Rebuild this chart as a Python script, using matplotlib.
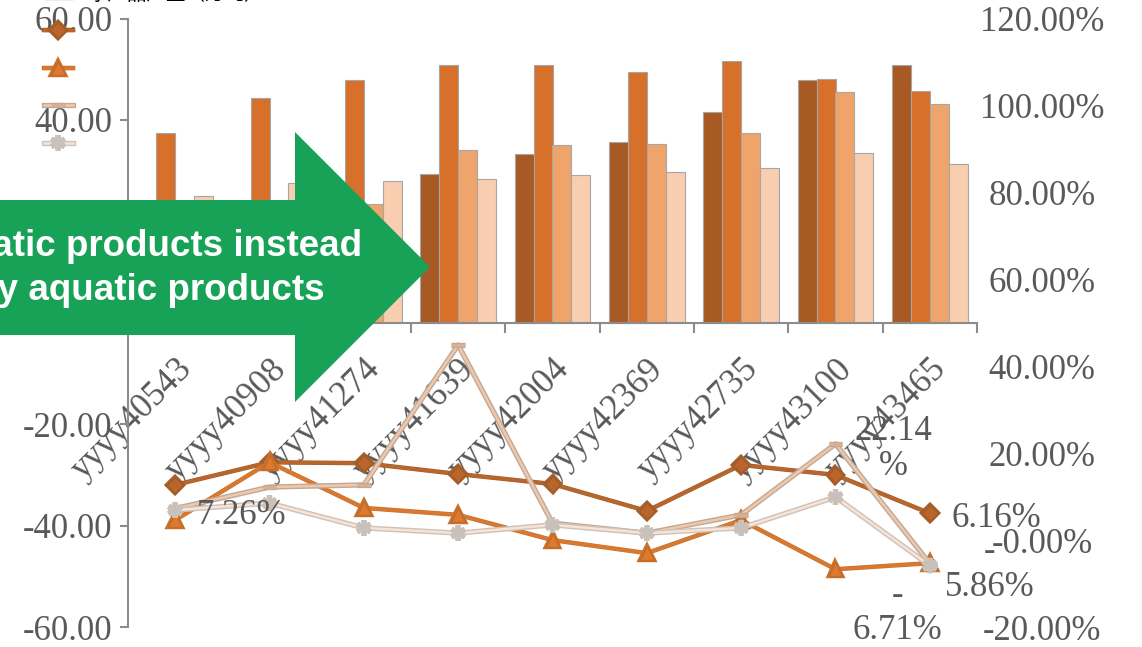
import matplotlib
matplotlib.use("Agg")
import matplotlib.pyplot as plt
import matplotlib.patheffects as pe
import matplotlib.transforms as mtransforms
from matplotlib.patches import Polygon, Patch
import numpy as np

# ---------------------------------------------------------
# DATA
# ---------------------------------------------------------
categories = ["yyyy40543", "yyyy40908", "yyyy41274", "yyyy41639", "yyyy42004",
              "yyyy42369", "yyyy42735", "yyyy43100", "yyyy43465"]

# bars (left axis)
bar_dark   = [18.0, 20.0, 22.0, 29.4, 33.2, 35.6, 41.6, 47.8, 50.8]
bar_orange = [37.5, 44.4, 47.8, 50.9, 50.9, 49.5, 51.6, 48.1, 45.8]
bar_medium = [20.0, 22.0, 23.5, 34.0, 35.0, 35.2, 37.4, 45.5, 43.1]
bar_light  = [25.0, 27.5, 28.0, 28.3, 29.2, 29.8, 30.5, 33.4, 31.4]

# growth rates in % (right axis)
rate_a = [12.7, 17.9, 17.7, 15.2, 12.9, 6.7, 17.3, 15.0, 6.16]
rate_b = [4.6, 17.9, 7.4, 5.8, 0.0, -3.0, 4.6, -6.71, -5.3]
rate_c = [7.26, 12.2, 12.7, 44.9, 3.9, 1.6, 5.8, 22.14, -5.4]
rate_d = [6.9, 8.5, 2.8, 1.6, 3.5, 1.6, 2.8, 9.9, -5.86]

left_ticks = [-60, -40, -20, 0, 20, 40, 60]
right_ticks = [-20, 0, 20, 40, 60, 80, 100, 120]
right_tick_labels = ["-20.00%", "-0.00%", "20.00%", "40.00%", "60.00%",
                     "80.00%", "100.00%", "120.00%"]

arrow_line1 = "Buy processed aquatic products instead"
arrow_line2 = "of dry aquatic products"
legend_top_label = "水产品产量（万吨）"

# ---------------------------------------------------------
# STYLE
# ---------------------------------------------------------
W, H = 1142, 647
serif = "Liberation Serif"
txt_col = "#595959"
axis_col = "#8c8c8c"
bar_cols = ["#A85A24", "#D6702A", "#EFA46B", "#F9CDAF"]

fig = plt.figure(figsize=(W / 100, H / 100), dpi=100)
ax = fig.add_axes([128 / W, 1 - 627 / H, (977 - 128) / W, (627 - 18.6) / H])
ax2 = ax.twinx()

x = np.arange(len(categories))
bw = 0.2
for i, (vals, col) in enumerate(zip([bar_dark, bar_orange, bar_medium, bar_light], bar_cols)):
    ax.bar(x + (i - 1.5) * bw, vals, bw, color=col, edgecolor="#a6a6a6", linewidth=0.8, zorder=2)

ax.set_xlim(-0.5, len(categories) - 0.5)
ax.set_ylim(-60, 60)
ax.set_yticks(left_ticks)
ax.set_yticklabels([f"{v:.2f}" for v in left_ticks])
for s in ["top", "right"]:
    ax.spines[s].set_visible(False)
ax.spines["left"].set_color(axis_col)
ax.spines["left"].set_linewidth(1.5)
ax.spines["bottom"].set_position(("data", 0))
ax.spines["bottom"].set_color(axis_col)
ax.spines["bottom"].set_linewidth(1.5)
ax.tick_params(axis="y", length=6, width=1.5, color=axis_col, pad=5,
               labelsize=25, labelcolor=txt_col)
for lbl in ax.get_yticklabels():
    lbl.set_family(serif)
ax.set_xticks([])
ax.set_xticks(np.arange(-0.5, len(categories), 1), minor=True)
ax.tick_params(axis="x", which="minor", length=7, width=1.5, color=axis_col)

# rotated category labels
lbl_tr = mtransforms.offset_copy(ax.transData, fig=fig, x=0, y=-30, units="dots")
for i, c in enumerate(categories):
    ax.text(i, 0, c, transform=lbl_tr, rotation=45, rotation_mode="anchor",
            ha="right", va="top", fontsize=25, family=serif, color=txt_col, zorder=1)

# lines
ax2.set_ylim(-20, 120)
ax2.set_yticks(right_ticks)
ax2.set_yticklabels(right_tick_labels)
ax2.tick_params(axis="y", length=0, pad=47, labelsize=25, labelcolor=txt_col)
for lbl in ax2.get_yticklabels():
    lbl.set_family(serif)
    lbl.set_ha("center")
for s in ax2.spines.values():
    s.set_visible(False)

la, = ax2.plot(x, rate_a, color="#B9652C", lw=2.4, marker="D", ms=8,
               mfc="#B9652C", mec="#A85A24",
               path_effects=[pe.Stroke(linewidth=3.2, foreground="#a0602f"), pe.Normal()])
lb, = ax2.plot(x, rate_b, color="#D9782F", lw=2.4, marker="^", ms=10,
               mfc="#DB7A30", mec="#C86A25",
               path_effects=[pe.Stroke(linewidth=3.2, foreground="#c4722f"), pe.Normal()])
lc, = ax2.plot(x, rate_c, color="#EEC8AC", lw=1.8, marker="_", ms=10, mew=2,
               mfc="#EEC8AC", mec="#d9b295",
               path_effects=[pe.Stroke(linewidth=3.8, foreground="#c2a895"), pe.Normal()])
ld, = ax2.plot(x, rate_d, color="#F8E3D5", lw=1.8, marker=(6, 2, 0), ms=11, mew=1.2,
               mec="#c9c0ba",
               path_effects=[pe.Stroke(linewidth=3.8, foreground="#cbc2bc"), pe.Normal()])

# data labels
def dlabel(xi, yv, text, dx, dy, ha="left"):
    ax2.annotate(text, (xi, yv), xytext=(dx, dy), textcoords="offset pixels",
                 ha=ha, va="center", fontsize=25, family=serif, color=txt_col,
                 multialignment="center", linespacing=1.1, annotation_clip=False)

dlabel(0, rate_c[0], f"{rate_c[0]:.2f}%", 22, -7)
dlabel(7, rate_c[7], f"{rate_c[7]:.2f}\n%", 58, -5, ha="center")
dlabel(8, rate_a[8], f"{rate_a[8]:.2f}%", 22, -5)
dlabel(8, rate_d[8], f"-\n{abs(rate_d[8]):.2f}%", 60, -4, ha="center")
dlabel(7, rate_b[7], f"-\n{abs(rate_b[7]):.2f}%", 62, -44, ha="center")

# legend (partly out of the figure at the top)
handles = [Patch(facecolor=bar_cols[3], edgecolor="#a6a6a6"), la, lb, lc, ld]
labels = [legend_top_label, "", "", "", ""]
leg = fig.legend(handles, labels, loc="upper left",
                 bbox_to_anchor=(26 / W, 1 + 34 / H), frameon=False,
                 prop={"family": ["Noto Sans CJK SC", "DejaVu Sans"], "size": 14},
                 handlelength=1.5, labelspacing=0.85, handletextpad=0.8)

# green arrow overlay
pts = [(0, 200), (295, 200), (295, 132), (430, 267), (295, 402), (295, 335), (0, 335)]
arrow = Polygon([(px / W, 1 - py / H) for px, py in pts], closed=True,
                transform=fig.transFigure, facecolor="#17A257", edgecolor="none", zorder=10)
fig.patches.append(arrow)
fig.text(362 / W, 1 - 256 / H, arrow_line1, ha="right", va="baseline", color="white",
         fontsize=26.5, fontweight="bold", family="Liberation Sans", zorder=11)
fig.text(325 / W, 1 - 300 / H, arrow_line2, ha="right", va="baseline", color="white",
         fontsize=26.5, fontweight="bold", family="Liberation Sans", zorder=11)

fig.savefig("out.png", dpi=100)
